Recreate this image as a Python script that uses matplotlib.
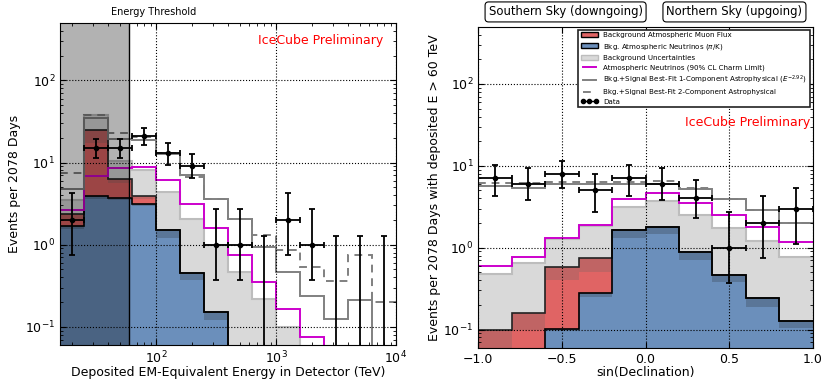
import numpy as np
import matplotlib
matplotlib.use('Agg')
import matplotlib.pyplot as plt
from matplotlib.patches import Patch
from matplotlib.lines import Line2D

# ---- left panel: deposited energy (TeV), 14 bins ----
energy_edges = [15.85, 25.12, 39.81, 63.10, 100.0, 158.5, 251.2, 398.1, 631.0,
                1000.0, 1585, 2512, 3981, 6310, 10000]
e_conv = [1.55, 3.60, 3.45, 2.95, 1.22, 0.367, 0.122, 0.03, 0.01, 1e-3, 1e-3, 1e-3, 1e-3, 1e-3]
e_conv_hi = [1.67, 3.88, 3.70, 3.10, 1.49, 0.45, 0.15, 0.04, 0.015, 1e-3, 1e-3, 1e-3, 1e-3, 1e-3]
e_muon = [2.05, 17.1, 5.64, 3.55, 0, 0, 0, 0, 0, 0, 0, 0, 0, 0]
e_muon_hi = [2.39, 24.8, 6.38, 3.87, 0, 0, 0, 0, 0, 0, 0, 0, 0, 0]
e_unc = [3.47, 38.0, 10.4, 8.2, 4.38, 2.07, 1.0, 0.46, 0.22, 0.10, 1e-3, 1e-3, 1e-3, 1e-3]
e_charm = [2.67, 6.8, 8.6, 8.84, 6.1, 3.16, 1.61, 0.74, 0.35, 0.166, 0.075, 0.03, 0.02, 0.01]
e_fit1 = [4.8, 35.3, 19.6, 19.0, 12.8, 7.1, 3.64, 2.07, 0.94, 0.46, 0.24, 0.125, 0.213, 0.03]
e_fit2 = [7.5, 37.7, 22.6, 20.2, 13.2, 6.7, 3.64, 2.07, 1.30, 0.85, 0.53, 0.357, 0.755, 0.20]
e_data = [2, 15, 15, 21, 13, 9, 1, 1, 0, 2, 1, 0, 0, 0]
e_data_lo = [0.74, 11.2, 11.2, 16.3, 9.3, 6.4, 0.37, 0.37, 0, 0.74, 0.37, 0, 0, 0]
e_data_hi = [4.2, 19.5, 19.5, 26.5, 17.4, 12.7, 2.75, 2.75, 1.29, 4.26, 2.75, 1.29, 1.29, 1.29]

# ---- right panel: sin(declination), 10 bins, E > 60 TeV ----
dec_edges = [-1.0, -0.8, -0.6, -0.4, -0.2, 0.0, 0.2, 0.4, 0.6, 0.8, 1.0]
d_conv = [1e-3, 1e-3, 0.095, 0.25, 1.30, 1.47, 0.71, 0.38, 0.19, 0.104]
d_conv_hi = [1e-3, 1e-3, 0.101, 0.277, 1.64, 1.80, 0.88, 0.465, 0.24, 0.128]
d_muon = [0.05, 0.10, 0.40, 0.51, 0, 0, 0, 0, 0, 0]
d_muon_hi = [0.10, 0.158, 0.577, 0.74, 0, 0, 0, 0, 0, 0]
d_unc = [0.477, 0.645, 1.27, 1.85, 3.16, 3.75, 2.5, 1.72, 1.22, 0.76]
d_charm = [0.60, 0.78, 1.30, 1.89, 3.93, 4.7, 3.48, 2.5, 1.8, 1.18]
d_fit1 = [5.66, 5.3, 6.0, 5.98, 5.98, 6.0, 5.15, 3.93, 2.9, 2.0]
d_fit2 = [6.1, 6.1, 6.4, 6.28, 6.28, 6.6, 5.35, 3.93, 2.9, 2.0]
d_data = [7, 6, 8, 5, 7, 6, 4, 1, 2, 3]
d_data_lo = [4.27, 3.8, 5.3, 2.75, 4.27, 3.8, 2.3, 0.37, 0.74, 1.1]
d_data_hi = [10.2, 9.3, 11.4, 7.85, 10.2, 9.3, 6.7, 2.75, 4.27, 5.3]

BLUE, BLUE_DK = '#6b8fbb', '#5a7698'
RED, RED_DK = '#e06464', '#c06464'
GRAY, GRAY_EDGE = '#d9d9d9', '#bdbdbd'
FIT = '#808080'
MAG = '#cc00cc'
FLOOR = 1e-3


def draw_hist(ax, edges, conv, conv_hi, muon, muon_hi, unc, charm, fit1, fit2):
    conv = np.array(conv)
    conv_hi = np.array(conv_hi)
    base = np.full(len(conv), FLOOR)
    mu = np.maximum(muon, conv_hi)
    mu_hi = np.maximum(muon_hi, conv_hi)
    ax.stairs(unc, edges, baseline=base, fill=True, color=GRAY, lw=0, zorder=1)
    ax.stairs(unc, edges, baseline=None, color=GRAY_EDGE, lw=1.5, zorder=1.1)
    ax.stairs(conv, edges, baseline=base, fill=True, color=BLUE, lw=0, zorder=1.2)
    ax.stairs(conv_hi, edges, baseline=conv, fill=True, color=BLUE_DK, lw=0, zorder=1.2)
    ax.stairs(mu, edges, baseline=conv_hi, fill=True, color=RED, lw=0, zorder=1.2)
    ax.stairs(mu_hi, edges, baseline=mu, fill=True, color=RED_DK, lw=0, zorder=1.2)
    ax.stairs(mu_hi, edges, baseline=None, color='#222222', lw=1.2, zorder=1.3)
    ax.stairs(conv_hi, edges, baseline=None, color='k', lw=1.2, zorder=1.3)
    ax.stairs(charm, edges, baseline=None, color=MAG, lw=1.4, zorder=1.5)
    ax.stairs(fit1, edges, baseline=None, color=FIT, lw=1.4, zorder=1.6)
    ax.stairs(fit2, edges, baseline=None, color=FIT, lw=1.4, ls=(0, (4, 3)), zorder=1.6)


def draw_data(ax, edges, centers, data, lo, hi):
    edges = np.array(edges)
    for i, n in enumerate(data):
        if n > 0:
            ax.errorbar([centers[i]], [n],
                        xerr=[[centers[i] - edges[i]], [edges[i + 1] - centers[i]]],
                        yerr=[[n - lo[i]], [hi[i] - n]],
                        fmt='o', color='k', ms=3, elinewidth=1.3, capsize=2.5,
                        capthick=1.3, zorder=4)
        else:
            # empty bin: only the upper limit bar
            ax.errorbar([centers[i]], [FLOOR], yerr=[[0], [hi[i] - FLOOR]],
                        fmt='none', ecolor='k', elinewidth=1.3, capsize=2.5,
                        capthick=1.3, zorder=4)


def style_axes(ax):
    ax.set_yscale('log')
    ax.set_ylim(0.06, 500)
    ax.tick_params(which='both', direction='in', top=True, right=True, labelsize=9)
    ax.tick_params(which='major', length=4)
    ax.tick_params(which='minor', length=2)
    ax.set_axisbelow(False)
    ax.grid(True, which='major', ls=':', color='k', lw=0.8)


fig = plt.figure(figsize=(8.24, 3.88), dpi=100)

# left panel
ax1 = fig.add_axes([60 / 824, 43 / 388, 336 / 824, 322 / 388])
ax1.set_xscale('log')
ax1.set_xlim(energy_edges[0], energy_edges[-1])
style_axes(ax1)
e_centers = np.sqrt(np.array(energy_edges[:-1]) * np.array(energy_edges[1:]))
draw_hist(ax1, energy_edges, e_conv, e_conv_hi, e_muon, e_muon_hi, e_unc, e_charm, e_fit1, e_fit2)
ax1.axvspan(energy_edges[0], 60, color='k', alpha=0.3, lw=0, zorder=2.4)
ax1.axvline(60, color='k', lw=1, zorder=2.4)
draw_data(ax1, energy_edges, e_centers, e_data, e_data_lo, e_data_hi)
ax1.text(0.28, 1.034, 'Energy Threshold', transform=ax1.transAxes, fontsize=7,
         ha='center', va='center')
ax1.text(0.962, 0.947, 'IceCube Preliminary', transform=ax1.transAxes, fontsize=9,
         color='red', ha='right', va='center')
ax1.set_xlabel('Deposited EM-Equivalent Energy in Detector (TeV)', fontsize=9, labelpad=0)
ax1.set_ylabel('Events per 2078 Days', fontsize=9, labelpad=3)

# right panel
ax2 = fig.add_axes([478.3 / 824, 40.3 / 388, 334.4 / 824, 321 / 388])
ax2.set_xlim(-1, 1)
style_axes(ax2)
ax2.set_xticks([-1.0, -0.5, 0.0, 0.5, 1.0])
d_centers = 0.5 * (np.array(dec_edges[:-1]) + np.array(dec_edges[1:]))
draw_hist(ax2, dec_edges, d_conv, d_conv_hi, d_muon, d_muon_hi, d_unc, d_charm, d_fit1, d_fit2)
draw_data(ax2, dec_edges, d_centers, d_data, d_data_lo, d_data_hi)
ax2.text(0.992, 0.703, 'IceCube Preliminary', transform=ax2.transAxes, fontsize=9,
         color='red', ha='right', va='center')
box = dict(boxstyle='round,pad=0.3', fc='white', ec='k', lw=0.8)
ax2.text(0.261, 1.046, 'Southern Sky (downgoing)', transform=ax2.transAxes, fontsize=8.4,
         ha='center', va='center', bbox=box)
ax2.text(0.766, 1.046, 'Northern Sky (upgoing)', transform=ax2.transAxes, fontsize=8.4,
         ha='center', va='center', bbox=box)
ax2.set_xlabel('sin(Declination)', fontsize=9, labelpad=0)
ax2.set_ylabel('Events per 2078 Days with deposited E > 60 TeV', fontsize=9, labelpad=2)

handles = [
    Patch(fc=RED, ec='k', lw=1),
    Patch(fc=BLUE, ec='k', lw=1),
    Patch(fc=GRAY, ec=GRAY_EDGE, lw=1),
    Line2D([], [], color=MAG, lw=1.4),
    Line2D([], [], color=FIT, lw=1.4),
    Line2D([], [], color=FIT, lw=1.4, ls=(0, (4, 3))),
    Line2D([], [], color='k', marker='o', ms=3, lw=1),
]
labels = [
    'Background Atmospheric Muon Flux',
    r'Bkg. Atmospheric Neutrinos ($\pi$/K)',
    'Background Uncertainties',
    'Atmospheric Neutrinos (90% CL Charm Limit)',
    r'Bkg.+Signal Best-Fit 1-Component Astrophysical ($E^{-2.92}$)',
    'Bkg.+Signal Best-Fit 2-Component Astrophysical',
    'Data',
]
leg = ax2.legend(handles, labels, loc='upper right', fontsize=5.15, numpoints=3,
                 handlelength=2.3, handletextpad=0.8, labelspacing=0.45,
                 borderaxespad=0.4, fancybox=False, framealpha=1)
leg.get_frame().set_edgecolor('#222222')
leg.get_frame().set_linewidth(1.2)
leg.set_zorder(5)

fig.savefig('out.png', dpi=100)
